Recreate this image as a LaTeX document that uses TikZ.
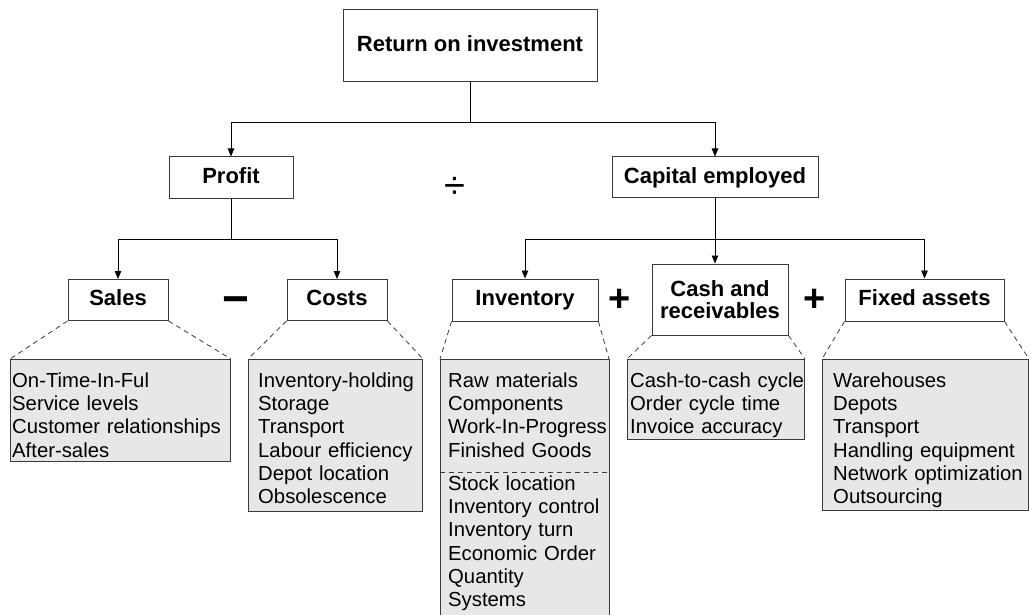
\documentclass[tikz,border=0pt]{standalone}
\usepackage{fontspec}
\setmainfont{Liberation Sans}
\usetikzlibrary{arrows.meta}
\definecolor{listgray}{HTML}{E6E7E8}
\definecolor{boxline}{HTML}{3A3A3A}
\begin{document}
\begin{tikzpicture}[x=1pt,y=-1pt,
  hbox/.style={draw=boxline, line width=1pt, fill=white, inner sep=0pt, align=center,
    font=\fontsize{22}{22}\selectfont\bfseries},
  oneline/.style={hbox, text height=15.75pt, text depth=4pt},
  listbox/.style={fill=listgray, draw=boxline, line width=1pt, anchor=north west, inner sep=0pt},
  listtext/.style={anchor=north west, inner sep=0pt, text width=330pt, align=left,
    font=\fontsize{20.3}{23.3}\selectfont},
  conn/.style={line width=0.9pt, draw=black},
  arr/.style={conn, -{Triangle[length=8pt,width=6.5pt]}},
  dashline/.style={draw=boxline, line width=0.8pt, dash pattern=on 5pt off 4pt},
  opsign/.style={inner sep=0pt, font=\fontsize{38}{38}\selectfont\bfseries}
]
\useasboundingbox (0,0) rectangle (1029,615);

% head boxes
\node[oneline, minimum width=254pt, minimum height=72pt] (roi) at (470,46) {Return on investment};
\node[oneline, minimum width=124pt, minimum height=42pt] (profit) at (231,178) {Profit};
\node[oneline, minimum width=206pt, minimum height=41pt] (cap) at (715,177.5) {Capital employed};
\node[oneline, minimum width=100pt, minimum height=41pt] (sales) at (118,300) {Sales};
\node[oneline, minimum width=100pt, minimum height=41pt] (costs) at (337,300) {Costs};
\node[oneline, minimum width=146pt, minimum height=42pt] (inv) at (525,300) {Inventory};
\node[hbox, minimum width=136pt, minimum height=71pt] (cash) at (720,299.5) {Cash and\\receivables};
\node[oneline, minimum width=159pt, minimum height=42pt] (fixed) at (924.5,300) {Fixed assets};

% operators
\node[inner sep=0pt, font=\fontsize{38}{38}\selectfont] (div) at (455,188) {÷};
\node[opsign, font=\fontsize{46}{46}\selectfont\bfseries] (minus) at (236,306) {−};
\node[opsign] (plus1) at (620,300) {+};
\node[opsign] (plus2) at (815,300) {+};

% connectors
\coordinate (j1) at (470,122);
\draw[conn] (roi.south) -- (j1);
\draw[arr] (j1) -| (profit.north);
\draw[arr] (j1) -| (cap.north);
\coordinate (j2) at (231,239);
\draw[conn] (profit.south) -- (j2);
\draw[arr] (j2) -| (sales.north);
\draw[arr] (j2) -| (costs.north);
\coordinate (j3) at (715,239);
\draw[arr] (cap.south) -- (cap.south |- cash.north);
\draw[arr] (j3) -| (inv.north);
\draw[arr] (j3) -| (fixed.north);

% list boxes
\node[listbox, minimum width=220pt, minimum height=102pt] (salesL) at (10,359) {};
\node[listbox, minimum width=174pt, minimum height=152pt] (costsL) at (248,359) {};
\node[listbox, draw=none, minimum width=168pt, minimum height=256pt] (invL) at (440,359) {};
\draw[boxline, line width=1pt] (invL.south west) |- (invL.north east) -- (invL.south east);
\node[listbox, minimum width=177pt, minimum height=80pt] (cashL) at (627,359) {};
\node[listbox, minimum width=206pt, minimum height=151pt] (fixedL) at (822,359) {};

\coordinate (sepL) at (440,472);
\coordinate (sepR) at (608,472);
\draw[dashline] (sepL) -- (sepR);

% list texts
\node[listtext] (salesT) at (12,370.7) {\strut On-Time-In-Ful\\Service levels\\Customer relationships\\After-sales};
\node[listtext] (costsT) at (258,370.7) {\strut Inventory-holding\\Storage\\Transport\\Labour efficiency\\Depot location\\Obsolescence};
\node[listtext] (invT1) at (448,370.7) {\strut Raw materials\\Components\\Work-In-Progress\\Finished Goods};
\node[listtext] (invT2) at (448,473.7) {\strut Stock location\\Inventory control\\Inventory turn\\Economic Order\\Quantity\\Systems};
\node[listtext] (cashT) at (630,370.7) {\strut Cash-to-cash cycle\\Order cycle time\\Invoice accuracy};
\node[listtext] (fixedT) at (833,370.7) {\strut Warehouses\\Depots\\Transport\\Handling equipment\\Network optimization\\Outsourcing};

% dashed links
\draw[dashline] (sales.south west) -- (salesL.north west);
\draw[dashline] (sales.south east) -- (salesL.north east);
\draw[dashline] (costs.south west) -- (costsL.north west);
\draw[dashline] (costs.south east) -- (costsL.north east);
\draw[dashline] (inv.south west) -- (invL.north west);
\draw[dashline] (inv.south east) -- (invL.north east);
\draw[dashline] (cash.south west) -- (cashL.north west);
\draw[dashline] (cash.south east) -- (cashL.north east);
\draw[dashline] (fixed.south west) -- (fixedL.north west);
\draw[dashline] (fixed.south east) -- (fixedL.north east);
\end{tikzpicture}
\end{document}
